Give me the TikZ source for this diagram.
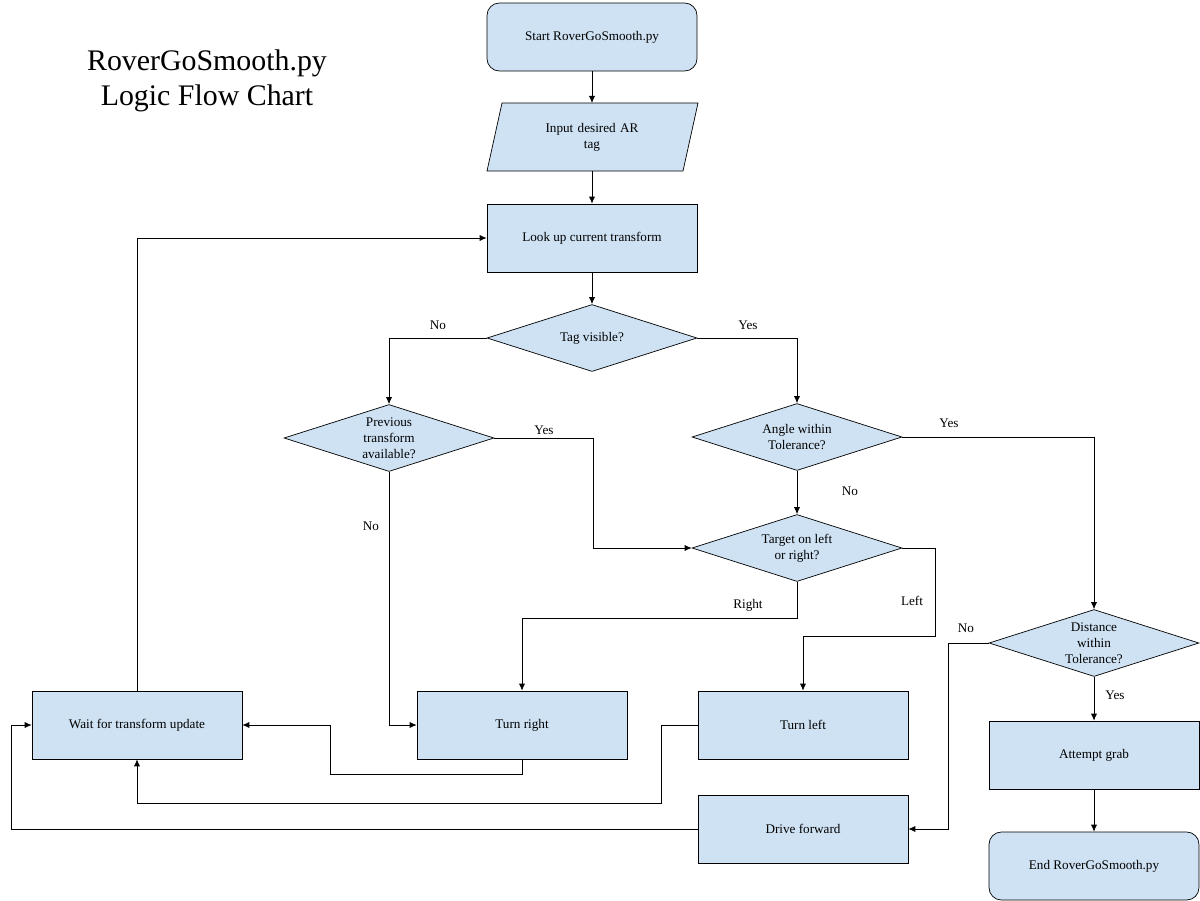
\documentclass[tikz,border=0pt]{standalone}
\usepackage{fontspec}
\setmainfont{Liberation Serif}
\usetikzlibrary{shapes.geometric,arrows.meta}
\definecolor{boxblue}{HTML}{CFE2F3}
\tikzset{
  box/.style={draw,fill=boxblue,minimum width=4.2cm,minimum height=1.36cm,inner sep=0pt,font=\fontsize{7.5}{9}\selectfont,align=center},
  rbox/.style={box,rounded corners=7pt},
  dec/.style={draw,fill=boxblue,diamond,aspect=3.13,inner sep=0pt,minimum width=4.2cm,minimum height=1.34cm,font=\fontsize{7.5}{9}\selectfont,align=center},
  lbl/.style={font=\fontsize{7.5}{9}\selectfont},
  flow/.style={-{Latex[length=4pt,width=3.5pt]},line width=0.45pt}
}
\begin{document}
\begin{tikzpicture}[x=0.02cm,y=-0.02cm]
\useasboundingbox (0,0) rectangle (1200,900);

\node[font=\fontsize{17}{20}\selectfont,align=center] (title) at (207,81) {RoverGoSmooth.py\\Logic Flow Chart};

\node[rbox] (start) at (592,37) {Start RoverGoSmooth.py};
\draw[fill=boxblue] (502,103) -- (698,103) -- (683,171) -- (487,171) -- cycle;
\node[lbl,align=center,text width=2.4cm] (input) at (592,137) {Input desired AR\\tag};
\node[box] (lookup) at (592,238) {Look up current transform};
\node[dec] (tagvis) at (592,338) {Tag visible?};
\node[dec] (prev) at (389,438) {Previous\\transform\\available?};
\node[dec] (angle) at (797,437) {Angle within\\Tolerance?};
\node[dec] (target) at (797,548) {Target on left\\or right?};
\node[dec] (dist) at (1094,643) {Distance\\within\\Tolerance?};
\node[box] (wait) at (137,725) {Wait for transform update};
\node[box] (right) at (522,725) {Turn right};
\node[box] (left) at (803,725) {Turn left};
\node[box] (grab) at (1094,755) {Attempt grab};
\node[box] (drive) at (803,829) {Drive forward};
\node[rbox] (end) at (1094,866) {End RoverGoSmooth.py};

\draw[flow] (start) -- (start |- 0,103);
\draw[flow] (input |- 0,171) -- (lookup);
\draw[flow] (lookup) -- (tagvis);
\draw[flow] (tagvis.west) -| (prev.north);
\draw[flow] (tagvis.east) -| (angle.north);
\draw[flow] (prev.east) -- (593,438) |- (target.west);
\draw[flow] (prev.south) |- (right.west);
\draw[flow] (angle) -- (target);
\draw[flow] (angle.east) -| (dist.north);
\draw[flow] (target.south) |- (522,618) -- (right.north);
\draw[flow] (target.east) -- (935,548) |- (803,636) -- (left.north);
\draw[flow] (dist.west) -- (948,643) |- (drive.east);
\draw[flow] (dist) -- (grab);
\draw[flow] (grab) -- (end);
\draw[flow] (right.south) |- (330,774) |- (wait.east);
\draw[flow] (left.west) -- (661,725) |- (137,803) -- (wait.south);
\draw[flow] (drive.west) -| (11,725) -- (wait.west);
\draw[flow] (wait.north) |- (lookup.west);

\node[lbl] (lno1) at (438,325) {No};
\node[lbl] (lyes1) at (748,325) {Yes};
\node[lbl] (lyes2) at (544,430) {Yes};
\node[lbl] (lno2) at (371,526) {No};
\node[lbl] (lno3) at (850,491) {No};
\node[lbl] (lyes3) at (949,423) {Yes};
\node[lbl] (lright) at (748,605) {Right};
\node[lbl] (lleft) at (912,601) {Left};
\node[lbl] (lno4) at (966,628) {No};
\node[lbl] (lyes4) at (1115,695) {Yes};
\end{tikzpicture}
\end{document}
